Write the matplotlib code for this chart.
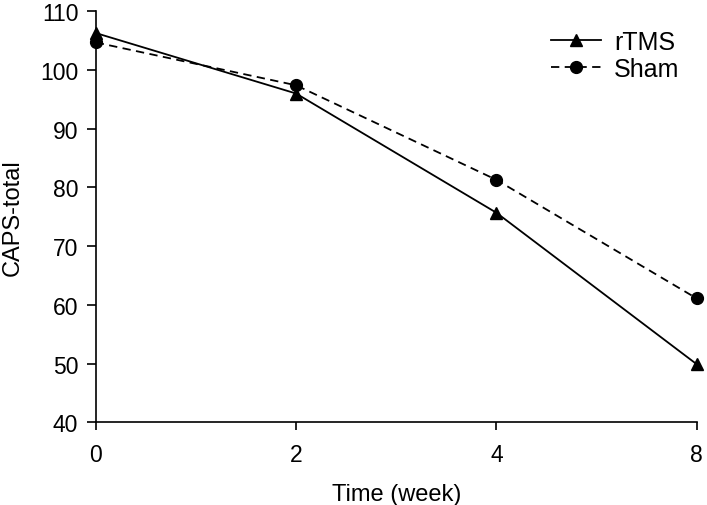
import matplotlib
matplotlib.use("Agg")
import matplotlib.pyplot as plt

weeks = ["0", "2", "4", "8"]
rtms = [106.3, 96.0, 75.7, 49.9]
sham = [104.7, 97.4, 81.3, 61.1]
yticks = [40, 50, 60, 70, 80, 90, 100, 110]

plt.rcParams['font.family'] = ['Liberation Sans', 'DejaVu Sans']

fig = plt.figure(figsize=(7.07, 5.06), dpi=100)
ax = fig.add_axes([0.1354, 0.1634, 0.8500, 0.8123])

ax.plot(weeks, rtms, color='black', lw=1.3, marker='^', markersize=9,
        label='rTMS', clip_on=False, zorder=3)
ax.plot(weeks, sham, color='black', lw=1.3, marker='o', markersize=8.5,
        linestyle=(0, (4.6, 3.0)), label='Sham', clip_on=False, zorder=3)

ax.set_xlim(0, 3)
ax.set_ylim(40, 110)
ax.set_yticks(yticks)
ax.spines['top'].set_visible(False)
ax.spines['right'].set_visible(False)
for s in ('left', 'bottom'):
    ax.spines[s].set_linewidth(1.2)
ax.tick_params(axis='y', direction='out', length=6.5, width=1.2,
               labelsize=16.5, color='black', pad=6)
ax.tick_params(axis='x', direction='out', length=6, width=1.2,
               labelsize=16.5, color='black', pad=9)

ax.set_xlabel('Time (week)', fontsize=17, labelpad=12)
ax.set_ylabel('CAPS-total', fontsize=17, labelpad=12)

leg = ax.legend(loc='upper right', bbox_to_anchor=(1.0, 0.997), frameon=False,
                fontsize=18, handlelength=2.0, handletextpad=0.5,
                labelspacing=0.12, borderaxespad=0.3)

fig.savefig('out.png', dpi=100)
